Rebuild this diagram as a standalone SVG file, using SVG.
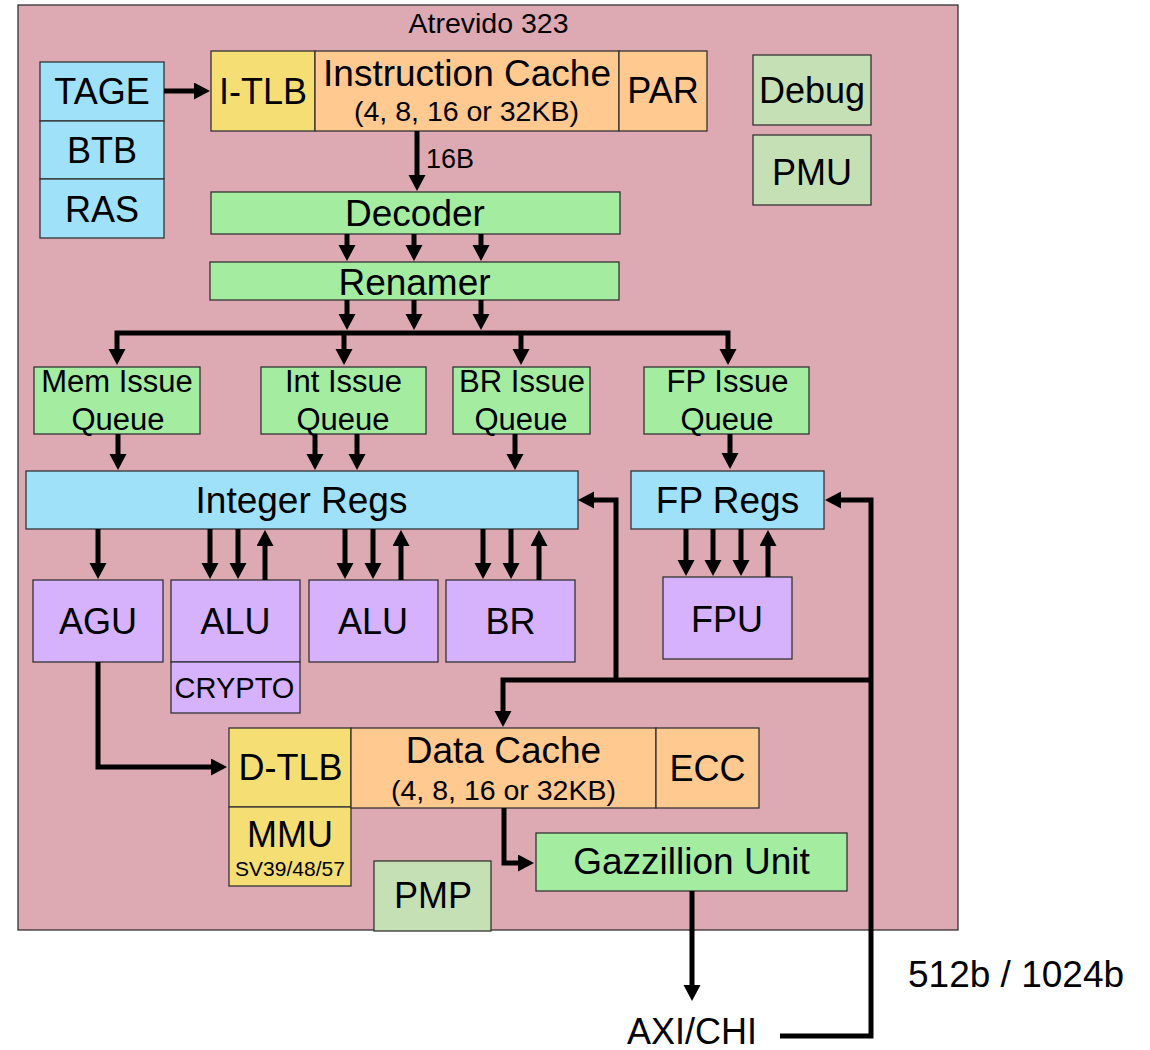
<svg xmlns="http://www.w3.org/2000/svg" width="1150" height="1050" viewBox="0 0 1150 1050">
<style>
text{font-family:"Liberation Sans",Arial,sans-serif;fill:#000;text-anchor:middle}
.b{stroke:#333;stroke-width:1.3}
.pink{fill:#ddaab4}
.blue{fill:#9fe1f9}
.yel{fill:#f5df74}
.peach{fill:#ffc990}
.green{fill:#a3eca0}
.sage{fill:#c5e0b4}
.purp{fill:#d6b1fc}
.t36{font-size:36px}
.t37{font-size:37px}
.t31{font-size:31px}
.t28{font-size:28.5px}
.c{fill:none;stroke:#000;stroke-width:5;stroke-linejoin:miter}
.a{marker-end:url(#ah)}
</style>
<defs>
<marker id="ah" markerUnits="userSpaceOnUse" markerWidth="18" markerHeight="18" refX="1" refY="8.5" orient="auto-start-reverse">
<path d="M0,0 L16,8.5 L0,17 z" fill="#000"/>
</marker>
</defs>
<rect width="1150" height="1050" fill="#fff"/>
<g id="outer">
<rect class="b pink" x="18" y="5" width="940" height="925"/>
<text x="488.5" y="33" font-size="28.5">Atrevido 323</text>
</g>
<g id="tage"><rect class="b blue" x="40" y="62" width="124" height="59"/><text class="t36" x="102" y="104">TAGE</text></g>
<g id="btb"><rect class="b blue" x="40" y="121" width="124" height="58"/><text class="t36" x="102" y="163">BTB</text></g>
<g id="ras"><rect class="b blue" x="40" y="179" width="124" height="59"/><text class="t36" x="102" y="222">RAS</text></g>
<g id="itlb"><rect class="b yel" x="211" y="51" width="104" height="80"/><text class="t36" x="263" y="104">I-TLB</text></g>
<g id="icache"><rect class="b peach" x="315" y="51" width="304" height="80"/><text class="t37" x="467" y="86">Instruction Cache</text><text class="t28" x="466.5" y="121">(4, 8, 16 or 32KB)</text></g>
<g id="par"><rect class="b peach" x="619" y="51" width="88" height="80"/><text class="t36" x="663" y="103">PAR</text></g>
<g id="debug"><rect class="b sage" x="753" y="55" width="118" height="70"/><text class="t36" x="812" y="103">Debug</text></g>
<g id="pmu"><rect class="b sage" x="753" y="135" width="118" height="70"/><text class="t36" x="812" y="185">PMU</text></g>
<g id="decoder"><rect class="b green" x="211" y="192" width="409" height="42"/><text class="t37" x="415" y="226">Decoder</text></g>
<g id="renamer"><rect class="b green" x="210" y="262" width="409" height="38"/><text class="t37" x="414.5" y="295">Renamer</text></g>
<g id="memiq"><rect class="b green" x="34" y="367" width="166" height="67"/><text class="t31" x="117" y="392">Mem Issue</text><text class="t31" x="118" y="430">Queue</text></g>
<g id="intiq"><rect class="b green" x="261" y="367" width="165" height="67"/><text class="t31" x="343.5" y="392">Int Issue</text><text class="t31" x="343" y="430">Queue</text></g>
<g id="briq"><rect class="b green" x="453" y="367" width="137" height="67"/><text class="t31" x="522" y="392">BR Issue</text><text class="t31" x="521" y="430">Queue</text></g>
<g id="fpiq"><rect class="b green" x="644" y="367" width="165" height="67"/><text class="t31" x="727.5" y="392">FP Issue</text><text class="t31" x="727" y="430">Queue</text></g>
<g id="intregs"><rect class="b blue" x="26" y="471" width="552" height="58"/><text class="t37" x="301.5" y="513">Integer Regs</text></g>
<g id="fpregs"><rect class="b blue" x="631" y="471" width="193" height="58"/><text class="t37" x="727.5" y="513">FP Regs</text></g>
<g id="agu"><rect class="b purp" x="33" y="580" width="130" height="82"/><text class="t36" x="98" y="634">AGU</text></g>
<g id="alu1"><rect class="b purp" x="171" y="580" width="129" height="82"/><text class="t36" x="235.5" y="634">ALU</text></g>
<g id="crypto"><rect class="b purp" x="171" y="662" width="129" height="51"/><text x="234.5" y="698" font-size="29">CRYPTO</text></g>
<g id="alu2"><rect class="b purp" x="309" y="580" width="129" height="82"/><text class="t36" x="373" y="634">ALU</text></g>
<g id="br"><rect class="b purp" x="446" y="580" width="129" height="82"/><text class="t36" x="510.5" y="634">BR</text></g>
<g id="fpu"><rect class="b purp" x="663" y="577" width="129" height="82"/><text class="t36" x="727" y="632">FPU</text></g>
<g id="dtlb"><rect class="b yel" x="229" y="728" width="122" height="79"/><text class="t36" x="290.5" y="780">D-TLB</text></g>
<g id="mmu"><rect class="b yel" x="229" y="807" width="122" height="79"/><text class="t36" x="290" y="847">MMU</text><text x="290" y="876" font-size="21">SV39/48/57</text></g>
<g id="dcache"><rect class="b peach" x="351" y="728" width="305" height="80"/><text class="t37" x="503.5" y="763">Data Cache</text><text class="t28" x="503.5" y="800">(4, 8, 16 or 32KB)</text></g>
<g id="ecc"><rect class="b peach" x="656" y="728" width="103" height="80"/><text class="t36" x="707.5" y="781">ECC</text></g>
<g id="gazz"><rect class="b green" x="536" y="833" width="311" height="58"/><text class="t37" x="691.5" y="874">Gazzillion Unit</text></g>
<g id="pmp"><rect class="b sage" x="374" y="861" width="117" height="70"/><text class="t36" x="433" y="908">PMP</text></g>
<g id="axi"><text class="t36" x="692" y="1044">AXI/CHI</text></g>
<g id="buslabel"><text class="t37" x="908" y="987" style="text-anchor:start">512b / 1024b</text></g>
<g id="connectors">
<path class="c a" d="M164,91 H195"/>
<path class="c a" d="M417,131 V176"/>
<text x="426" y="168" font-size="27" style="text-anchor:start">16B</text>
<path class="c a" d="M347,234 V246"/>
<path class="c a" d="M414,234 V246"/>
<path class="c a" d="M481,234 V246"/>
<path class="c a" d="M347,300 V315"/>
<path class="c a" d="M414,300 V315"/>
<path class="c a" d="M481,300 V315"/>
<path class="c" d="M117,350 V333 H728 V350" marker-start="url(#ah)" marker-end="url(#ah)"/>
<path class="c a" d="M344,333 V350"/>
<path class="c a" d="M521,333 V350"/>
<path class="c a" d="M118,434 V455"/>
<path class="c a" d="M315,434 V455"/>
<path class="c a" d="M357,434 V455"/>
<path class="c a" d="M515,434 V455"/>
<path class="c a" d="M730,434 V454"/>
<path class="c a" d="M98,529 V564"/>
<path class="c a" d="M210,529 V564"/>
<path class="c a" d="M238,529 V564"/>
<path class="c a" d="M265,580 V545"/>
<path class="c a" d="M345,529 V564"/>
<path class="c a" d="M373,529 V564"/>
<path class="c a" d="M401,580 V545"/>
<path class="c a" d="M483,529 V564"/>
<path class="c a" d="M511,529 V564"/>
<path class="c a" d="M539,580 V545"/>
<path class="c a" d="M686,529 V561"/>
<path class="c a" d="M713,529 V561"/>
<path class="c a" d="M741,529 V561"/>
<path class="c a" d="M768,577 V545"/>
<path class="c a" d="M98,662 V767 H212"/>
<path class="c a" d="M780,1036 H871 V500 H840"/>
<path class="c a" d="M616,680 V500 H593"/>
<path class="c a" d="M871,680 H503 V712"/>
<path class="c a" d="M504,808 V863 H519"/>
<path class="c a" d="M692,891 V986"/>
</g>
</svg>
